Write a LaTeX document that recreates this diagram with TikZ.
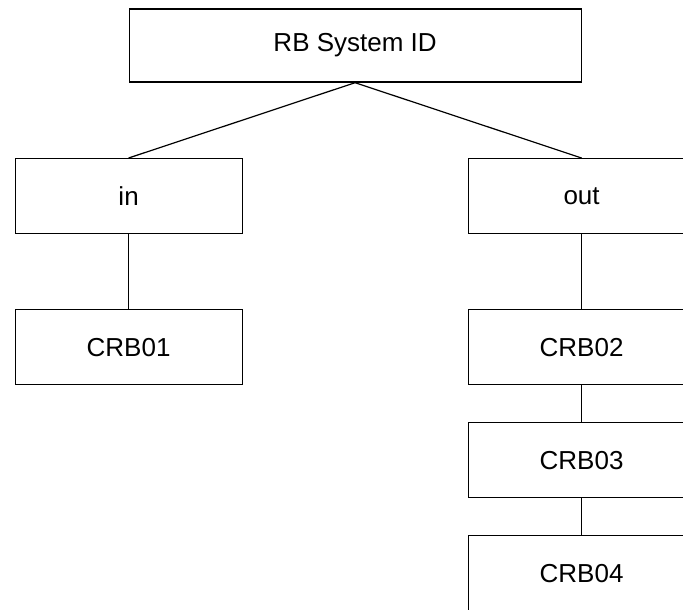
\documentclass[tikz,border=0pt]{standalone}
\usepackage{fontspec}
\setmainfont{Liberation Sans}
\begin{document}
\begin{tikzpicture}[x=1pt,y=-1pt,
  box/.style={draw=black,line width=1.2pt,fill=white,minimum width=227pt,minimum height=75pt,inner sep=0pt,font=\fontsize{26}{31}\selectfont,anchor=north west},
  link/.style={draw=black,line width=1.2pt}]
\useasboundingbox (0,0) rectangle (683,610);
\clip (0,0) rectangle (683,610);
\fill[white] (0,0) rectangle (683,610);
\node[box,minimum width=452pt,minimum height=73pt] (root) at (128.5,8.5) {RB System ID};
\node[box] (in) at (14.5,158) {in};
\node[box] (out) at (467.5,158) {out};
\node[box] (c1) at (14.5,309) {CRB01};
\node[box] (c2) at (467.5,309) {CRB02};
\node[box] (c3) at (467.5,422) {CRB03};
\node[box] (c4) at (467.5,535) {CRB04};
\draw[link] (root.south) -- (in.north);
\draw[link] (root.south) -- (out.north);
\draw[link] (in.south) -- (c1.north);
\draw[link] (out.south) -- (c2.north);
\draw[link] (c2.south) -- (c3.north);
\draw[link] (c3.south) -- (c4.north);
\end{tikzpicture}
\end{document}
